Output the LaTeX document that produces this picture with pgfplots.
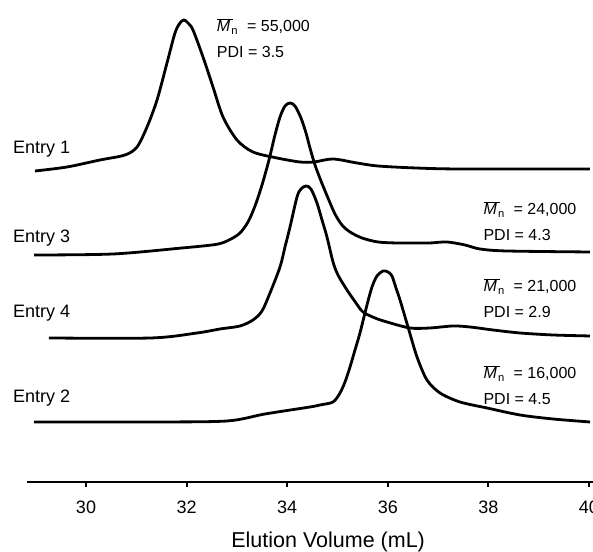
\documentclass[border=0pt]{standalone}
\usepackage{fontspec}
\setmainfont{Liberation Sans}
\usepackage{pgfplots}
\pgfplotsset{compat=1.18}

% GPC traces, offset vertically; y is in pixel-like units above the axis line
\pgfplotstableread{
x y
28.986 311
29.622 315
30.278 322
30.775 327
31.014 335
31.213 355
31.412 382
31.610 419
31.769 449
31.869 459
31.948 462
32.028 459
32.127 452
32.326 425
32.525 395
32.724 365
33.002 342
33.320 330
33.797 324
34.254 320
34.533 320
34.911 323
35.388 319
35.805 316
36.561 314
37.435 313
40.020 313
}\entryone

\pgfplotstableread{
x y
28.966 227
30.537 228
31.909 234
32.505 237
32.704 239
32.883 243
33.062 249
33.221 260
33.360 276
33.499 297
33.638 322
33.757 347
33.857 365
33.956 376
34.056 379
34.155 376
34.274 364
34.374 349
34.453 334
34.553 317
34.672 301
34.811 284
34.950 268
35.089 257
35.249 250
35.487 244
35.805 240
36.183 239
36.561 239
36.839 239
37.177 240
37.535 237
37.833 233
38.370 231
40.020 230
}\entrythree

\pgfplotstableread{
x y
29.264 144
31.292 144
32.207 149
32.664 153
33.062 156
33.320 162
33.499 171
33.658 189
33.857 215
33.956 235
34.056 255
34.195 285
34.274 293
34.374 296
34.473 293
34.592 279
34.692 262
34.791 245
34.911 220
35.010 207
35.189 192
35.368 179
35.507 170
35.746 164
35.984 160
36.441 154
36.839 154
37.296 156
37.634 155
38.091 152
38.628 149
39.284 147
40.020 146
}\entryfour

\pgfplotstableread{
x y
28.966 60
31.292 60
32.803 61
33.559 68
34.453 75
34.652 77
34.911 80
35.050 89
35.149 100
35.249 115
35.348 132
35.447 149
35.586 177
35.686 195
35.785 206
35.905 211
36.004 210
36.083 206
36.163 194
36.243 182
36.402 155
36.581 125
36.779 102
37.038 89
37.435 80
37.972 74
38.628 67
39.284 63
40.020 60
}\entrytwo

\newcommand{\mn}{$\overline{\mbox{\itshape M\,}}$\kern-1.5pt\textsubscript{n}\ \ }

\begin{document}
\begin{tikzpicture}
\begin{axis}[
  x=50.3pt, y=1pt,
  xmin=28.827, xmax=40.08, ymin=0, ymax=482,
  axis x line*=bottom, axis y line=none,
  axis line style={-, line width=2.6pt, black},
  xtick={30,32,...,40}, ytick=\empty, xtick pos=left,
  xtick align=outside, major tick length=5pt,
  tick style={line width=2pt, black},
  xticklabel style={font=\fontsize{18pt}{20pt}\selectfont, yshift=-10pt},
  /pgf/number format/assume math mode=true,
  xlabel={Elution Volume (mL)},
  xlabel style={font=\fontsize{21.5pt}{24pt}\selectfont,
    at={(axis description cs:0.532,0)}, anchor=base, yshift=-66pt, inner sep=0pt},
  clip=false,
  trace/.style={black, smooth, line width=2.8pt, no markers},
]
  \addplot[trace] table[x=x, y=y] {\entryone};
  \addplot[trace] table[x=x, y=y] {\entrythree};
  \addplot[trace] table[x=x, y=y] {\entryfour};
  \addplot[trace] table[x=x, y=y] {\entrytwo};

  % entry labels
  \def\entrylab#1#2{%
    \node[anchor=base west, inner sep=0pt, font=\fontsize{18pt}{20pt}\selectfont]
      at (axis cs:28.549,#1) {#2};}
  \entrylab{328}{Entry 1}
  \entrylab{239}{Entry 3}
  \entrylab{164}{Entry 4}
  \entrylab{79}{Entry 2}

  % Mn / PDI annotations
  \def\annot#1#2#3#4{%
    \node[anchor=base west, inner sep=0pt, font=\fontsize{16pt}{18pt}\selectfont]
      at (axis cs:#1,#2) {\mn= #3};
    \node[anchor=base west, inner sep=0pt, font=\fontsize{16pt}{18pt}\selectfont]
      at (axis cs:#1,#2-26) {PDI = #4};}
  \annot{32.600}{450}{55,000}{3.5}
  \annot{37.900}{267}{24,000}{4.3}
  \annot{37.900}{190}{21,000}{2.9}
  \annot{37.900}{103}{16,000}{4.5}

  \coordinate (bbsw) at (axis cs:28.290,-70);
  \coordinate (bbne) at (axis cs:40.080,482);
\end{axis}
\pgfresetboundingbox
\useasboundingbox (bbsw) rectangle (bbne);
\end{tikzpicture}
\end{document}
